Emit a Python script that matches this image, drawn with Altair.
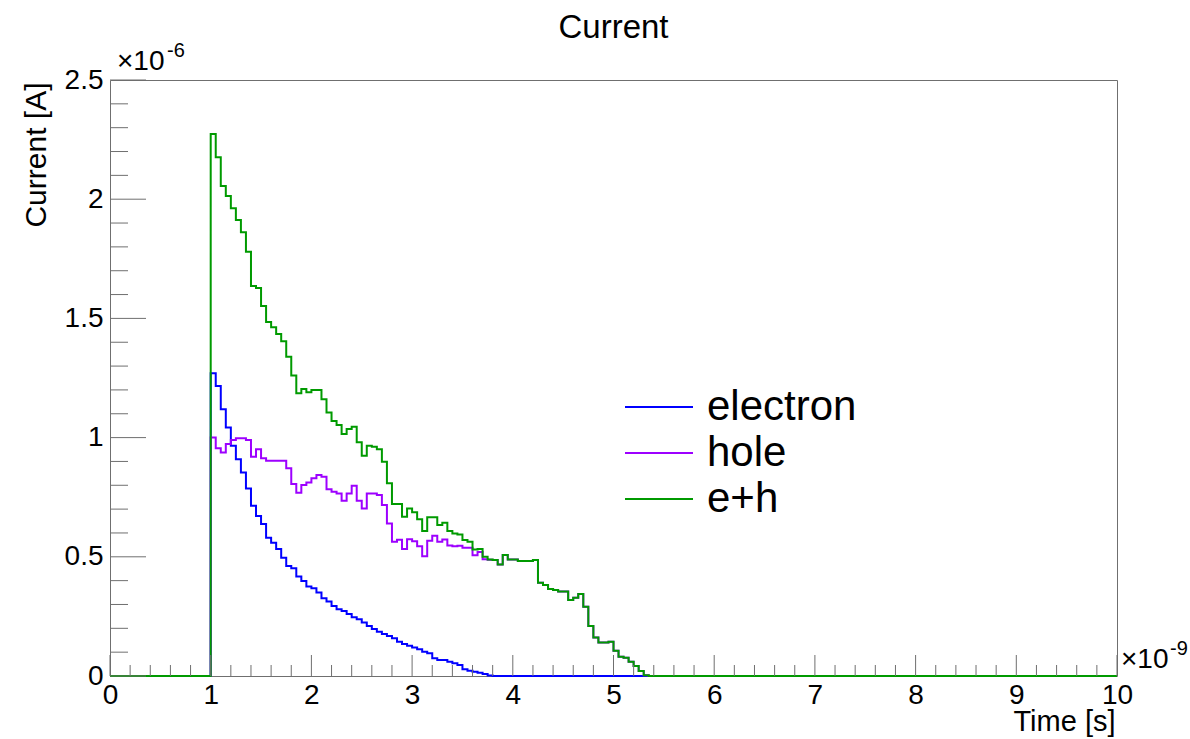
import altair as alt
import numpy as np
import pandas as pd

FONT = "Liberation Sans"

# ---- histogram data: 200 bins of 0.05 ns from 0 to 10 ns; values in 1e-6 A ----
BIN_WIDTH = 0.05
N_BINS = 200
FIRST_BIN = 20  # first non-zero bin starts at 1.00 ns

electron = [
    1.270, 1.216, 1.119, 1.042, 0.966, 0.909, 0.854, 0.787, 0.714, 0.671,
    0.638, 0.580, 0.559, 0.533, 0.496, 0.461, 0.452, 0.417, 0.398, 0.375,
    0.368, 0.350, 0.326, 0.312, 0.294, 0.280, 0.273, 0.260, 0.246, 0.238,
    0.224, 0.210, 0.197, 0.186, 0.176, 0.168, 0.158, 0.144, 0.134, 0.127,
    0.120, 0.112, 0.102, 0.095, 0.074, 0.067, 0.067, 0.060, 0.053, 0.046,
    0.028, 0.022, 0.018, 0.014, 0.008, 0.002,
]

hole = [
    1.000, 0.955, 0.938, 0.973, 0.990, 0.997, 0.997, 0.990, 0.920, 0.951,
    0.913, 0.903, 0.903, 0.903, 0.903, 0.871, 0.805, 0.769, 0.801, 0.812,
    0.829, 0.843, 0.836, 0.783, 0.773, 0.766, 0.735, 0.766, 0.798, 0.735,
    0.703, 0.766, 0.766, 0.759, 0.717, 0.640, 0.563, 0.572, 0.533, 0.574,
    0.565, 0.544, 0.502, 0.567, 0.588, 0.563, 0.573, 0.547, 0.544, 0.546,
    0.538, 0.538, 0.506, 0.520, 0.490, 0.488, 0.487, 0.468, 0.508, 0.489,
    0.489, 0.482, 0.482, 0.482, 0.487, 0.391, 0.382, 0.365, 0.361, 0.354,
    0.354, 0.319, 0.328, 0.344, 0.291, 0.210, 0.161, 0.140, 0.140, 0.144,
    0.106, 0.081, 0.077, 0.060, 0.042, 0.021, 0.003,
]

e_plus_h = [
    2.273, 2.176, 2.055, 2.013, 1.962, 1.913, 1.861, 1.780, 1.636, 1.628,
    1.552, 1.485, 1.463, 1.435, 1.404, 1.339, 1.261, 1.186, 1.204, 1.190,
    1.200, 1.200, 1.161, 1.105, 1.070, 1.053, 1.015, 1.036, 1.046, 0.980,
    0.924, 0.966, 0.962, 0.951, 0.899, 0.808, 0.721, 0.721, 0.668, 0.703,
    0.687, 0.657, 0.608, 0.666, 0.666, 0.633, 0.643, 0.608, 0.598, 0.594,
    0.570, 0.563, 0.531, 0.533, 0.500, 0.489, 0.487, 0.468, 0.508, 0.489,
    0.489, 0.482, 0.482, 0.482, 0.487, 0.391, 0.382, 0.365, 0.361, 0.354,
    0.354, 0.319, 0.328, 0.344, 0.291, 0.210, 0.161, 0.140, 0.140, 0.144,
    0.106, 0.081, 0.077, 0.060, 0.042, 0.021, 0.003,
]

series_names = ["electron", "hole", "e+h"]
series_values = [electron, hole, e_plus_h]
series_colors = ["#0000ff", "#9d00ff", "#009a00"]

# ---- axes ----
x_major = list(range(11))
x_minor = [round(0.2 * i, 1) for i in range(51) if i % 5]
y_major = [0, 0.5, 1, 1.5, 2, 2.5]
y_minor = [round(0.1 * i, 1) for i in range(26) if i % 5]

title_text = "Current"
x_title = "Time [s]"
y_title = "Current [A]"
x_exponent = ["×10", "-9"]
y_exponent = ["×10", "-6"]

W, H = 1007, 596
FRAME = "#6f6f6f"

x_scale = alt.Scale(domain=[0, 10], nice=False, zero=False)
y_scale = alt.Scale(domain=[0, 2.5], nice=False, zero=False)

x_axis = alt.Axis(
    values=x_major, ticks=False, domain=False, grid=False,
    labelFontSize=28, labelFont=FONT, labelColor="black", labelPadding=5,
    labelFlush=False, labelOverlap=False, format="d",
    title=x_title, titleFont=FONT, titleFontSize=29, titleFontWeight="normal",
    titleColor="black", titleAlign="right", titleX=W - 2, titleY=54,
    titleBaseline="alphabetic",
)
y_axis = alt.Axis(
    values=y_major, ticks=False, domain=False, grid=False,
    labelFontSize=28, labelFont=FONT, labelColor="black", labelPadding=7,
    labelFlush=False, labelOverlap=False, labelExpr="datum.value + ''",
    title=y_title, titleFont=FONT, titleFontSize=30, titleFontWeight="normal",
    titleColor="black", titleAngle=270, titleAlign="right", titleX=-65,
    titleY=2, titleBaseline="alphabetic",
)

edges = np.round(np.arange(N_BINS + 1) * BIN_WIDTH, 2)


def series_frame(vals):
    full = np.zeros(N_BINS + 1)
    full[FIRST_BIN:FIRST_BIN + len(vals)] = vals
    full[-1] = full[-2]
    return pd.DataFrame({"t": edges, "value": full})


X_ENC = alt.X("t:Q", scale=x_scale, axis=x_axis)
Y_ENC = alt.Y("value:Q", scale=y_scale, axis=y_axis)

layers = []
for name, vals, color in zip(series_names, series_values, series_colors):
    layers.append(
        alt.Chart(series_frame(vals))
        .mark_line(interpolate="step-after", color=color, strokeWidth=2)
        .encode(x=X_ENC, y=Y_ENC)
    )


# ---- tick marks (ROOT style, inside the frame) ----
def xticks(vals, length):
    return alt.Chart(pd.DataFrame({"t": vals})).mark_rule(color=FRAME, strokeWidth=1).encode(
        x=X_ENC, y=alt.value(H), y2=alt.value(H - length),
    )


def yticks(vals, length):
    return alt.Chart(pd.DataFrame({"value": vals})).mark_rule(color=FRAME, strokeWidth=1).encode(
        y=Y_ENC, x=alt.value(0), x2=alt.value(length),
    )


layers += [xticks(x_major, 21), xticks(x_minor, 11), yticks(y_major, 36), yticks(y_minor, 18)]


# ---- title and exponent annotations ----
def text_layer(s, x, y, size, align="left"):
    return alt.Chart(pd.DataFrame({"s": [s]})).mark_text(
        font=FONT, fontSize=size, align=align, baseline="alphabetic", color="black"
    ).encode(text="s:N", x=alt.value(x), y=alt.value(y))


layers += [
    text_layer(title_text, W / 2, -42, 33, align="center"),
    text_layer(y_exponent[0], 7, -10, 28),
    text_layer(y_exponent[1], 57, -23, 20),
    text_layer(x_exponent[0], 1011, 588, 28),
    text_layer(x_exponent[1], 1060, 575, 20),
]

# ---- legend ----
legend_rows = [327, 373, 419]
for name, color, ly in zip(series_names, series_colors, legend_rows):
    layers.append(
        alt.Chart(pd.DataFrame({"s": [name]})).mark_rule(color=color, strokeWidth=2).encode(
            x=alt.value(515), x2=alt.value(583), y=alt.value(ly)
        )
    )
    layers.append(
        alt.Chart(pd.DataFrame({"s": [name]})).mark_text(
            font=FONT, fontSize=42, align="left", baseline="middle", color="black"
        ).encode(text="s:N", x=alt.value(597), y=alt.value(ly))
    )

chart = (
    alt.layer(*layers)
    .properties(
        width=W, height=H,
        autosize=alt.AutoSizeParams(type="none"),
        padding={"left": 110, "top": 80, "right": 73, "bottom": 63},
        background="white",
    )
    .configure_view(stroke=FRAME, strokeWidth=1)
)

chart.save("out.html", embed_options={"renderer": "svg", "actions": False})
